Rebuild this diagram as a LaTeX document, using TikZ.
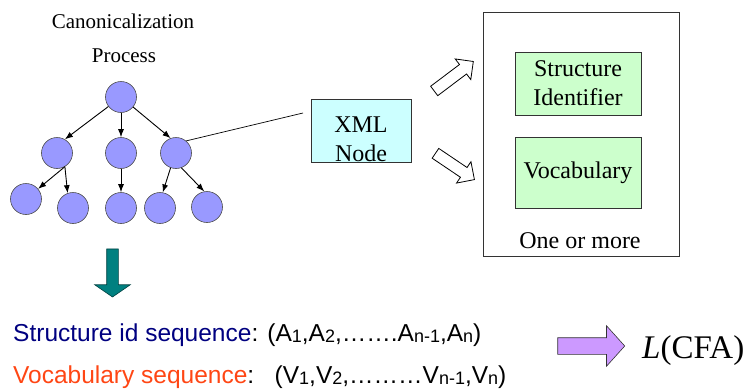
\documentclass[tikz,border=0pt]{standalone}
\usepackage{fontspec}
\setmainfont{Liberation Serif}
\setsansfont{Liberation Sans}
\usetikzlibrary{shapes.arrows,arrows.meta}
\definecolor{treeblue}{RGB}{153,153,255}
\definecolor{xmlcyan}{RGB}{204,255,255}
\definecolor{partgreen}{RGB}{204,255,204}
\definecolor{seqnavy}{RGB}{0,0,128}
\definecolor{seqorange}{RGB}{255,70,20}
\definecolor{downteal}{RGB}{0,128,128}
\definecolor{nextlilac}{RGB}{204,153,255}
\tikzset{
  tnode/.style={circle,draw=black!70,fill=treeblue,minimum size=31pt,inner sep=0pt,line width=0.6pt},
  tedge/.style={-{Latex[length=8pt,width=6pt]},line width=0.9pt},
  gbox/.style={draw=black!80,fill=partgreen,line width=0.6pt,minimum width=126pt,align=center,
    font=\fontsize{24}{29}\selectfont},
  hollow/.style={single arrow,draw=black,fill=white,line width=0.8pt,inner xsep=0pt,inner ysep=5.5pt,
    single arrow head extend=7pt},
  seqtext/.style={anchor=base west,inner sep=0pt,font=\sffamily\fontsize{24.5}{29}\selectfont}
}
\newcommand{\sbs}[1]{\raisebox{-1.5pt}{\fontsize{18}{20}\selectfont #1}}
\begin{document}
\begin{tikzpicture}[x=1pt,y=-1pt]
\useasboundingbox (0,0) rectangle (748,391);
% tree
\node[font=\fontsize{21}{25}\selectfont] (canon) at (123,21) {Canonicalization};
\node[font=\fontsize{21}{25}\selectfont] (proc) at (124,56) {Process};
\node[tnode] (r) at (121,97) {};
\node[tnode] (a) at (57,153) {};
\node[tnode] (b) at (121,153) {};
\node[tnode] (c) at (176,153) {};
\node[tnode] (a1) at (26,199) {};
\node[tnode] (a2) at (73,208) {};
\node[tnode] (b1) at (121,208) {};
\node[tnode] (c1) at (160,208) {};
\node[tnode] (c2) at (207,207) {};
\draw[tedge] (r) -- (a.60);
\draw[tedge] (r) -- (b);
\draw[tedge] (r) -- (c.110);
\draw[tedge] (a.-60) -- (a1.40);
\draw[tedge] (a.-60) -- (a2.110);
\draw[tedge] (b) -- (b1);
\draw[tedge] (c.-110) -- (c1.80);
\draw[tedge] (c.-70) -- (c2.100);
% xml node
\node[draw=black!80,fill=xmlcyan,line width=0.6pt,minimum width=100pt,minimum height=63pt] (xml) at (361,130.5) {};
\node[align=center,font=\fontsize{24}{29}\selectfont,inner sep=0pt] (xmltext) at (361,139) {XML\\Node};
\coordinate (xmlin) at (303,113);
\draw[line width=0.7pt] (c.50) -- (xmlin);
% hollow arrows
\node[hollow,minimum height=49pt,rotate=37] (hup) at (451.4,78) {};
\node[hollow,minimum height=47pt,rotate=-34] (hdown) at (452.5,164.8) {};
% one or more
\node[draw=black!80,line width=0.6pt,minimum width=196pt,minimum height=244pt] (outer) at (581,134) {};
\node[gbox,minimum height=63pt] (sid) at (578,83.5) {Structure\\Identifier};
\node[gbox,minimum height=71pt] (voc) at (578,172.5) {Vocabulary};
\node[font=\fontsize{24}{29}\selectfont,anchor=base] (more) at (580,248) {One or more};
% down arrow
\node[single arrow,draw=downteal!50!black,fill=downteal,line width=0.6pt,inner xsep=0pt,inner ysep=5.5pt,
  single arrow head extend=12pt,single arrow tip angle=111,minimum height=48pt,rotate=-90] (down) at (112.5,271) {};
% sequences
\node[seqtext] (sline) at (13,341) {\textcolor{seqnavy}{Structure id sequence}: (A\sbs{1},A\sbs{2},…….A\sbs{n-1},A\sbs{n})};
\node[seqtext] (vline) at (13,383) {\textcolor{seqorange}{Vocabulary sequence}:\ \ \ (V\sbs{1},V\sbs{2},………V\sbs{n-1},V\sbs{n})};
\node[single arrow,draw=black!80,fill=nextlilac,line width=0.6pt,inner xsep=0pt,inner ysep=8pt,
  single arrow head extend=12pt,single arrow tip angle=96,minimum height=67pt] (next) at (587.5,346) {};
\node[anchor=base west,inner sep=0pt,font=\fontsize{33}{38}\selectfont] (cfa) at (642,358) {\textit{L}(CFA)};
\end{tikzpicture}
\end{document}
